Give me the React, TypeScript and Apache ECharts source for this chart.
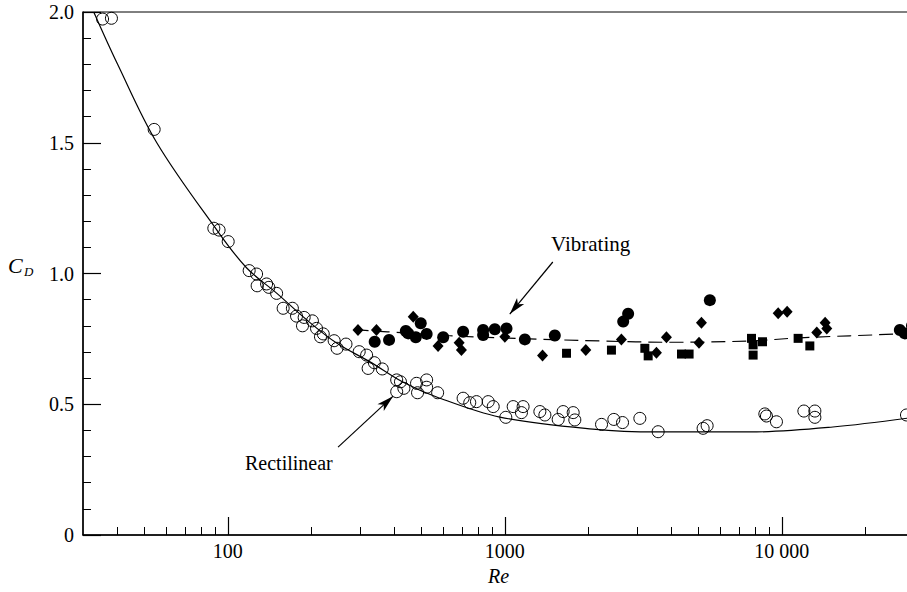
import React, { useEffect, useRef } from "react";
import * as echarts from "echarts";

// Axis ranges and ticks
const reMin = 30;
const reMax = 30000;
const reMajorTicks = [100, 1000, 10000];
const reMinorTicks = [
  40, 50, 60, 70, 80, 90,
  200, 300, 400, 500, 600, 700, 800, 900,
  2000, 3000, 4000, 5000, 6000, 7000, 8000, 9000,
  20000,
];
const cdMin = 0;
const cdMax = 2;
const cdStep = 0.5;

// Fitted curves [Re, C_D]
const rectilinearCurve: [number, number][] = [
  [32.8, 2.0], [40, 1.8], [55.4, 1.5], [91.3, 1.166],
  [117, 1.021], [150, 0.925], [193, 0.822], [247, 0.734], [326, 0.662],
  [428, 0.585], [570, 0.527], [959, 0.451], [2078, 0.405], [3537, 0.394],
  [7664, 0.394], [15280, 0.413], [30000, 0.45],
];
const vibratingCurve: [number, number][] = [
  [287, 0.785], [450, 0.772], [633, 0.762], [1000, 0.753], [2200, 0.742],
  [4000, 0.737], [7664, 0.742], [11600, 0.754], [26670, 0.769], [30000, 0.772],
];

// Rectilinear measurements (open circles)
const rectilinearPoints: [number, number][] = [
  [35.3, 1.973], [38.0, 1.976], [54.2, 1.551], [89.0, 1.173], [93.0, 1.166],
  [100.3, 1.122], [119.4, 1.011], [127, 0.998], [127.6, 0.953], [138, 0.96],
  [140.6, 0.947], [150, 0.924], [158.4, 0.867], [171, 0.867], [177, 0.837],
  [188.6, 0.832], [186, 0.8], [202, 0.819], [209, 0.79], [221, 0.769],
  [216, 0.758], [242, 0.743], [248, 0.714], [267, 0.73], [298, 0.701],
  [317, 0.688], [321, 0.637], [338, 0.659], [361, 0.635], [407, 0.593],
  [420, 0.586], [407, 0.548], [432, 0.561], [480, 0.58], [522, 0.593],
  [484, 0.544], [522, 0.565], [572, 0.544], [707, 0.523], [747, 0.506],
  [790, 0.51], [871, 0.51], [908, 0.491], [1008, 0.45], [1072, 0.491],
  [1164, 0.491], [1148, 0.468], [1338, 0.472], [1395, 0.459], [1558, 0.442],
  [1624, 0.472], [1765, 0.468], [1789, 0.44], [2234, 0.423], [2475, 0.442],
  [2660, 0.43], [3072, 0.446], [3577, 0.395], [5198, 0.408], [5374, 0.418],
  [8683, 0.463], [8800, 0.455], [9563, 0.433], [12010, 0.474], [13160, 0.474],
  [13160, 0.45], [28180, 0.459],
];

// Vibrating measurements
const vibratingCircles: [number, number][] = [
  [339, 0.739], [382, 0.746], [439, 0.78], [448, 0.771], [497, 0.81],
  [477, 0.756], [522, 0.769], [599, 0.756], [707, 0.777], [835, 0.784],
  [835, 0.765], [920, 0.787], [1014, 0.79], [1181, 0.748], [1515, 0.763],
  [2675, 0.816], [2787, 0.846], [5497, 0.898], [26670, 0.784], [27800, 0.771],
  [29500, 0.8],
];
const vibratingDiamonds: [number, number][] = [
  [295, 0.784], [344, 0.784], [467, 0.835], [574, 0.723], [684, 0.735],
  [697, 0.707], [1000, 0.758], [1368, 0.686], [1960, 0.707], [2635, 0.748],
  [3526, 0.697], [3832, 0.756], [5126, 0.812], [5024, 0.735], [9699, 0.848],
  [10450, 0.854], [14330, 0.812], [14530, 0.79], [13370, 0.774],
];
const vibratingSquares: [number, number][] = [
  [1670, 0.695], [2426, 0.707], [3202, 0.714], [3292, 0.685], [4342, 0.692],
  [4626, 0.692], [7771, 0.752], [7876, 0.727], [7876, 0.688], [8514, 0.739],
  [11450, 0.752], [12620, 0.723],
];

// Annotation arrows [from, to] in data coordinates
const vibratingArrow: [number, number][] = [[1490, 1.044], [1042, 0.845]];
const rectilinearArrow: [number, number][] = [[250, 0.336], [395, 0.531]];

const FONT = "Liberation Serif";

function formatRe(v: number): string {
  if (v >= 10000) {
    const s = String(Math.round(v));
    return s.slice(0, s.length - 3) + " " + s.slice(s.length - 3);
  }
  return String(v);
}

function arrowLine(pts: [number, number][]) {
  return [
    { coord: pts[0], symbol: "none" },
    { coord: pts[1], symbol: "arrow", symbolSize: [7, 17] },
  ];
}

function buildOption(): echarts.EChartsOption {
  const axisText = { fontFamily: FONT, fontSize: 20, color: "#000" };
  return {
    animation: false,
    backgroundColor: "#fff",
    textStyle: { fontFamily: FONT },
    grid: {
      left: 83,
      top: 12,
      right: 6,
      bottom: 57,
      show: true,
      borderColor: "#000",
      borderWidth: 1,
      backgroundColor: "transparent",
    },
    xAxis: [
      {
        type: "log",
        logBase: 10,
        min: reMin,
        max: reMax,
        name: "Re",
        nameLocation: "middle",
        nameGap: 31,
        nameTextStyle: { ...axisText, fontStyle: "italic" },
        axisLine: { show: true, onZero: false, lineStyle: { color: "#000", width: 1.5 } },
        axisTick: {
          show: true,
          inside: true,
          length: 18,
          customValues: reMajorTicks,
          lineStyle: { color: "#000", width: 1.2 },
        },
        axisLabel: {
          ...axisText,
          margin: 6,
          customValues: reMajorTicks,
          formatter: (v: number) => formatRe(v),
        },
        splitLine: { show: false },
        minorTick: { show: false },
      },
      {
        type: "log",
        logBase: 10,
        min: reMin,
        max: reMax,
        position: "bottom",
        axisLine: { show: false },
        axisTick: {
          show: true,
          inside: true,
          length: 8,
          customValues: reMinorTicks,
          lineStyle: { color: "#000", width: 1 },
        },
        axisLabel: { show: false },
        splitLine: { show: false },
      },
    ],
    yAxis: {
      type: "value",
      min: cdMin,
      max: cdMax,
      interval: cdStep,
      axisLine: { show: true, lineStyle: { color: "#000", width: 1.5 } },
      axisTick: { show: true, inside: true, length: 18, lineStyle: { color: "#000", width: 1.2 } },
      minorTick: { show: true, splitNumber: 5, length: 8, lineStyle: { color: "#000", width: 1 } },
      axisLabel: {
        ...axisText,
        margin: 9,
        formatter: (v: number) => (v === 0 ? "0" : v.toFixed(1)),
      },
      splitLine: { show: false },
      minorSplitLine: { show: false },
    },
    graphic: [
      {
        type: "group",
        left: 8,
        top: 254,
        children: [
          {
            type: "text",
            x: 0,
            y: 0,
            style: { text: "C", fontFamily: FONT, fontStyle: "italic", fontSize: 22, fill: "#000" },
          },
          {
            type: "text",
            x: 16,
            y: 11,
            style: { text: "D", fontFamily: FONT, fontStyle: "italic", fontSize: 13, fill: "#000" },
          },
        ],
      },
      {
        type: "text",
        left: 551,
        top: 233,
        style: { text: "Vibrating", fontFamily: FONT, fontSize: 21, fill: "#000" },
      },
      {
        type: "text",
        left: 245,
        top: 453,
        style: { text: "Rectilinear", fontFamily: FONT, fontSize: 20, fill: "#000" },
      },
    ],
    series: [
      {
        name: "Rectilinear fit",
        type: "line",
        data: rectilinearCurve,
        smooth: 0.35,
        showSymbol: false,
        symbol: "none",
        lineStyle: { color: "#000", width: 1.2 },
        z: 2,
        silent: true,
        markLine: {
          silent: true,
          animation: false,
          label: { show: false },
          lineStyle: { color: "#000", width: 1.2, type: "solid" },
          data: [arrowLine(rectilinearArrow) as any],
        },
      },
      {
        name: "Vibrating fit",
        type: "line",
        data: vibratingCurve,
        smooth: 0.35,
        showSymbol: false,
        symbol: "none",
        lineStyle: { color: "#000", width: 1.2, type: [14, 7] },
        z: 2,
        silent: true,
        markLine: {
          silent: true,
          animation: false,
          label: { show: false },
          lineStyle: { color: "#000", width: 1.2, type: "solid" },
          data: [arrowLine(vibratingArrow) as any],
        },
      },
      {
        name: "Rectilinear",
        type: "scatter",
        data: rectilinearPoints,
        symbol: "circle",
        symbolSize: 12,
        itemStyle: { color: "transparent", borderColor: "#000", borderWidth: 1, opacity: 1 },
        z: 3,
      },
      {
        name: "Vibrating (circles)",
        type: "scatter",
        data: vibratingCircles,
        symbol: "circle",
        symbolSize: 12,
        itemStyle: { color: "#000", opacity: 1 },
        z: 3,
      },
      {
        name: "Vibrating (diamonds)",
        type: "scatter",
        data: vibratingDiamonds,
        symbol: "diamond",
        symbolSize: [11, 12],
        itemStyle: { color: "#000", opacity: 1 },
        z: 3,
      },
      {
        name: "Vibrating (squares)",
        type: "scatter",
        data: vibratingSquares,
        symbol: "rect",
        symbolSize: 9,
        itemStyle: { color: "#000", opacity: 1 },
        z: 3,
      },
    ],
  } as echarts.EChartsOption;
}

export default function App() {
  const ref = useRef<HTMLDivElement>(null);
  useEffect(() => {
    if (!ref.current) return;
    const chart = echarts.init(ref.current, undefined, { renderer: "svg" });
    chart.setOption(buildOption());
    return () => chart.dispose();
  }, []);
  return (
    <div
      style={{
        position: "fixed",
        left: 0,
        top: 0,
        width: 907,
        height: 592,
        overflow: "hidden",
        background: "#fff",
      }}
    >
      <div ref={ref} style={{ width: 920, height: 592 }} />
    </div>
  );
}
